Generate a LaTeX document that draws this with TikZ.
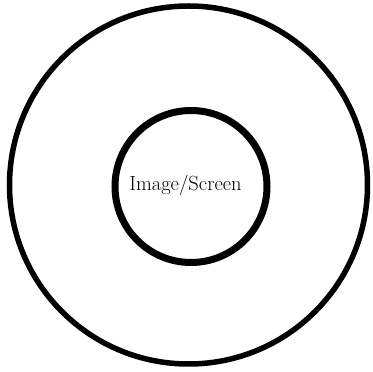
\documentclass[tikz,border=0pt]{standalone}
\begin{document}
\begin{tikzpicture}[x=1pt,y=1pt,
  ring/.style={circle, draw=black, inner sep=0pt, outer sep=0pt}]
\useasboundingbox (0,0) rectangle (373,372);
\node[ring, line width=5.5pt, minimum size=358pt] (outer) at (188.5,187) {};
\node[ring, line width=7pt, minimum size=152pt] (inner) at (191,185.5) {};
\node[font=\fontsize{20.5}{24}\selectfont, inner sep=0pt] (label) at (185.5,187) {Image/Screen};
\end{tikzpicture}
\end{document}
